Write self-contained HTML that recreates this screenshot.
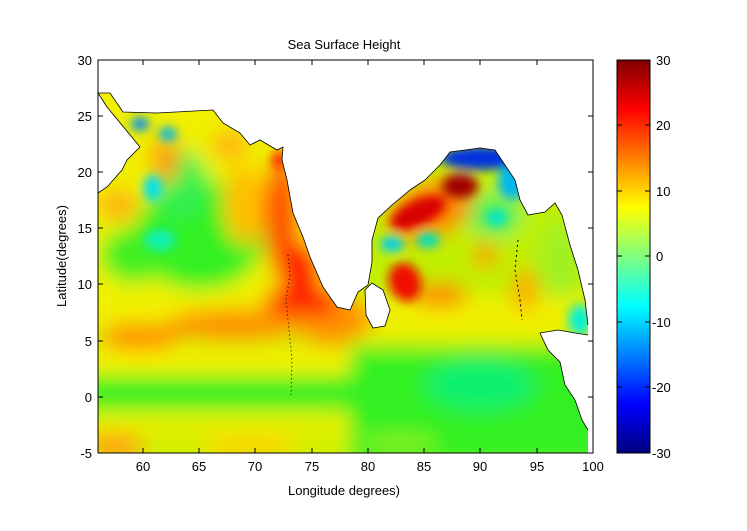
<!DOCTYPE html>
<html><head><meta charset="utf-8"><style>
body{margin:0;background:#fff;}
svg{display:block;font-family:"Liberation Sans",sans-serif;}
</style></head><body>
<svg width="747" height="531" viewBox="0 0 747 531" xmlns="http://www.w3.org/2000/svg">
<defs>
<filter id="b" x="-20%" y="-20%" width="140%" height="140%"><feGaussianBlur stdDeviation="10"/></filter>
<filter id="s" x="-50%" y="-50%" width="200%" height="200%"><feGaussianBlur stdDeviation="5"/></filter>
<clipPath id="oc">
<path d="M98,453 L98,193 L107,187 L122,170 L127,160 L140,147 L107,107 L98,93 L110,93 L123,112 L157,113 L213,110 L223,123 L240,133 L250,145 L260,140 L277,150 L283,147 L282,160 L287,180 L293,213 L303,237 L310,257 L323,287 L337,307 L350,310 L358,292 L368,285 L372,262 L372,240 L378,218 L392,205 L410,190 L425,180 L440,165 L450,152 L465,150 L480,148 L495,150 L505,165 L515,180 L520,200 L528,215 L545,212 L555,203 L562,215 L570,245 L578,270 L585,300 L588,325 L588,335 L575,333 L558,330 L540,333 L548,350 L560,362 L565,385 L575,400 L582,420 L588,430 L588,453 Z"/>
</clipPath>
<linearGradient id="jet" x1="0" y1="0" x2="0" y2="1">
<stop offset="0" stop-color="#800000"/><stop offset="0.125" stop-color="#ff0000"/>
<stop offset="0.375" stop-color="#ffff00"/><stop offset="0.5" stop-color="#80ff80"/>
<stop offset="0.625" stop-color="#00ffff"/><stop offset="0.875" stop-color="#0000ff"/>
<stop offset="1" stop-color="#000080"/>
</linearGradient>
</defs>
<rect x="98" y="60" width="495" height="393" fill="#fff"/>
<g clip-path="url(#oc)">
<rect x="0" y="0" width="747" height="531" fill="#d0f000"/>
<g filter="url(#b)">
<rect x="0" y="0" width="747" height="531" fill="#d0f000"/>
<rect x="0" y="0" width="345" height="330" fill="#f0f000"/>
<ellipse cx="200" cy="235" rx="65" ry="55" fill="#30f020"/>
<ellipse cx="135" cy="255" rx="35" ry="28" fill="#40f020"/>
<ellipse cx="180" cy="185" rx="28" ry="35" fill="#30f050"/>
<ellipse cx="245" cy="205" rx="22" ry="40" fill="#ffc000"/>
<ellipse cx="282" cy="215" rx="18" ry="60" fill="#ff5000"/>
<ellipse cx="300" cy="272" rx="22" ry="30" fill="#ff2000"/>
<ellipse cx="305" cy="302" rx="42" ry="16" fill="#ff2000"/>
<ellipse cx="235" cy="325" rx="70" ry="16" fill="#ff9000"/>
<ellipse cx="140" cy="337" rx="40" ry="14" fill="#ff9000"/>
<ellipse cx="330" cy="330" rx="30" ry="16" fill="#ff9000"/>
<rect x="0" y="350" width="360" height="22" fill="#f8f000"/>
<rect x="0" y="376" width="380" height="34" fill="#30f020"/>
<rect x="0" y="415" width="350" height="20" fill="#e8f000"/>
<ellipse cx="115" cy="447" rx="30" ry="14" fill="#ffa010"/>
<ellipse cx="250" cy="447" rx="50" ry="10" fill="#ffd000"/>
<ellipse cx="230" cy="145" rx="18" ry="15" fill="#ffb010"/>
<ellipse cx="165" cy="160" rx="14" ry="24" fill="#ff9a10"/>
<ellipse cx="118" cy="205" rx="20" ry="16" fill="#ffb010"/>
<rect x="360" y="140" width="240" height="210" fill="#c0f000"/>
<rect x="360" y="295" width="240" height="45" fill="#f0f000"/>
<ellipse cx="495" cy="215" rx="25" ry="20" fill="#30f060"/>
<ellipse cx="440" cy="295" rx="28" ry="12" fill="#ff8000"/>
<ellipse cx="485" cy="255" rx="12" ry="12" fill="#ff9000"/>
<ellipse cx="525" cy="290" rx="12" ry="22" fill="#ffa000"/>
<ellipse cx="560" cy="260" rx="22" ry="40" fill="#a0f020"/>
<ellipse cx="352" cy="318" rx="22" ry="18" fill="#ff9000"/>
<ellipse cx="430" cy="210" rx="45" ry="28" fill="#ff8000" transform="rotate(-25 430 210)"/>
<rect x="350" y="348" width="260" height="120" fill="#30f020"/>
<ellipse cx="480" cy="385" rx="55" ry="25" fill="#10f070"/>
<ellipse cx="400" cy="442" rx="40" ry="8" fill="#90f020"/>
</g>
<g filter="url(#s)">
<ellipse cx="153" cy="188" rx="9" ry="13" fill="#00e0f0"/>
<ellipse cx="160" cy="240" rx="16" ry="11" fill="#10f0b0"/>
<ellipse cx="140" cy="124" rx="9" ry="7" fill="#0090f0"/>
<ellipse cx="168" cy="134" rx="9" ry="7" fill="#00b8f0"/>
<ellipse cx="279" cy="160" rx="6" ry="9" fill="#ff1000"/>
<ellipse cx="482" cy="158" rx="42" ry="12" fill="#0030e0"/>
<ellipse cx="512" cy="182" rx="14" ry="18" fill="#00b8f0"/>
<ellipse cx="418" cy="213" rx="30" ry="13" fill="#d80000" transform="rotate(-25 418 213)"/>
<ellipse cx="460" cy="186" rx="18" ry="12" fill="#a00000"/>
<ellipse cx="392" cy="244" rx="12" ry="8" fill="#00d0f0"/>
<ellipse cx="428" cy="240" rx="12" ry="8" fill="#00e0c0"/>
<ellipse cx="497" cy="218" rx="9" ry="7" fill="#00e0e0"/>
<ellipse cx="405" cy="282" rx="16" ry="20" fill="#f01000" transform="rotate(-20 405 282)"/>
<ellipse cx="580" cy="320" rx="12" ry="16" fill="#10f0d0"/>
</g>
</g>
<path d="M365,290 L372,283 L383,290 L390,310 L385,326 L373,328 L366,315 Z" fill="#fff" stroke="#000" stroke-width="0.8"/>
<path d="M98,193 L107,187 L122,170 L127,160 L140,147 L107,107 L98,93 L110,93 L123,112 L157,113 L213,110 L223,123 L240,133 L250,145 L260,140 L277,150 L283,147 L282,160 L287,180 L293,213 L303,237 L310,257 L323,287 L337,307 L350,310 L358,292 L368,285 L372,262 L372,240 L378,218 L392,205 L410,190 L425,180 L440,165 L450,152 L465,150 L480,148 L495,150 L505,165 L515,180 L520,200 L528,215 L545,212 L555,203 L562,215 L570,245 L578,270 L585,300 L588,325" fill="none" stroke="#000" stroke-width="0.8"/>
<path d="M588,335 L575,333 L558,330 L540,333 L548,350 L560,362 L565,385 L575,400 L582,420 L588,430" fill="none" stroke="#000" stroke-width="0.8"/>
<path d="M288,255 L290,275 L286,300 L289,330 L292,360 L291,395" fill="none" stroke="#000" stroke-width="1" stroke-dasharray="1,3"/>
<path d="M518,240 L515,270 L520,300 L522,320" fill="none" stroke="#000" stroke-width="1" stroke-dasharray="2,3"/>
<rect x="98" y="60" width="495" height="393" fill="none" stroke="#000" stroke-width="1"/>
<g stroke="#000" stroke-width="1">
<line x1="143" y1="453" x2="143" y2="448"/><line x1="199" y1="453" x2="199" y2="448"/><line x1="255" y1="453" x2="255" y2="448"/><line x1="312" y1="453" x2="312" y2="448"/><line x1="368" y1="453" x2="368" y2="448"/><line x1="424" y1="453" x2="424" y2="448"/><line x1="480" y1="453" x2="480" y2="448"/><line x1="537" y1="453" x2="537" y2="448"/>
<line x1="143" y1="60" x2="143" y2="65"/><line x1="199" y1="60" x2="199" y2="65"/><line x1="255" y1="60" x2="255" y2="65"/><line x1="312" y1="60" x2="312" y2="65"/><line x1="368" y1="60" x2="368" y2="65"/><line x1="424" y1="60" x2="424" y2="65"/><line x1="480" y1="60" x2="480" y2="65"/><line x1="537" y1="60" x2="537" y2="65"/>
<line x1="98" y1="116" x2="103" y2="116"/><line x1="98" y1="172" x2="103" y2="172"/><line x1="98" y1="228" x2="103" y2="228"/><line x1="98" y1="284" x2="103" y2="284"/><line x1="98" y1="341" x2="103" y2="341"/><line x1="98" y1="397" x2="103" y2="397"/>
<line x1="593" y1="116" x2="588" y2="116"/><line x1="593" y1="172" x2="588" y2="172"/><line x1="593" y1="228" x2="588" y2="228"/><line x1="593" y1="284" x2="588" y2="284"/><line x1="593" y1="341" x2="588" y2="341"/><line x1="593" y1="397" x2="588" y2="397"/>
</g>
<g font-size="13" fill="#000" text-anchor="middle">
<text x="143" y="471">60</text><text x="199" y="471">65</text><text x="255" y="471">70</text><text x="312" y="471">75</text><text x="368" y="471">80</text><text x="424" y="471">85</text><text x="480" y="471">90</text><text x="537" y="471">95</text><text x="593" y="471">100</text>
</g>
<g font-size="13" fill="#000" text-anchor="end">
<text x="92" y="65">30</text><text x="92" y="121">25</text><text x="92" y="177">20</text><text x="92" y="233">15</text><text x="92" y="289">10</text><text x="92" y="346">5</text><text x="92" y="402">0</text><text x="92" y="458">-5</text>
</g>
<text x="344" y="49" font-size="13" text-anchor="middle">Sea Surface Height</text>
<text x="344" y="495" font-size="13" text-anchor="middle">Longitude degrees)</text>
<text transform="translate(66,256) rotate(-90)" font-size="13" text-anchor="middle">Latitude(degrees)</text>
<rect x="617" y="60" width="33" height="393" fill="url(#jet)" stroke="#000" stroke-width="1"/>
<g stroke="#000" stroke-width="1">
<line x1="645" y1="125" x2="650" y2="125"/><line x1="645" y1="191" x2="650" y2="191"/><line x1="645" y1="256" x2="650" y2="256"/><line x1="645" y1="322" x2="650" y2="322"/><line x1="645" y1="387" x2="650" y2="387"/>
<line x1="617" y1="125" x2="622" y2="125"/><line x1="617" y1="191" x2="622" y2="191"/><line x1="617" y1="256" x2="622" y2="256"/><line x1="617" y1="322" x2="622" y2="322"/><line x1="617" y1="387" x2="622" y2="387"/>
</g>
<g font-size="13" fill="#000">
<text x="656" y="65">30</text><text x="656" y="130">20</text><text x="656" y="196">10</text><text x="656" y="261">0</text><text x="652" y="327">-10</text><text x="652" y="392">-20</text><text x="652" y="458">-30</text>
</g>
</svg>
</body></html>
